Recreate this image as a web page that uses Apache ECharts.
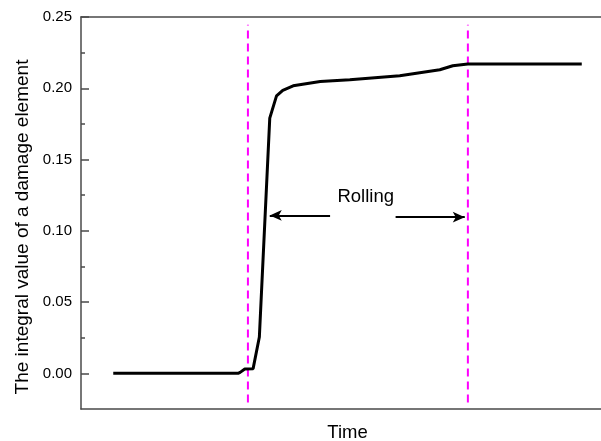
<!DOCTYPE html>
<html>
<head>
<meta charset="utf-8">
<script src="https://cdn.jsdelivr.net/npm/echarts@6/dist/echarts.min.js"></script>
<style>html,body{margin:0;padding:0;background:#fff;}#c{width:601px;height:441px;}</style>
</head>
<body>
<div id="c"></div>
<script>
const timeValues   = [6.2, 30.2, 30.6, 31.5, 33.1, 34.3, 36.3, 37.6, 38.8, 40.8, 46.0, 51.7, 61.3, 69.0, 71.5, 74.4, 96.3];
const damageValues = [0, 0, 0.0007, 0.003, 0.0033, 0.0255, 0.1791, 0.1947, 0.1986, 0.2017, 0.2048, 0.2060, 0.2088, 0.2130, 0.2158, 0.2170, 0.2170];
const boundaryTimes = [32.1, 74.4];
const boundaryRange = [-0.0205, 0.2445];
const majorTicks = [0, 0.05, 0.10, 0.15, 0.20, 0.25];
const minorTicks = [0.025, 0.075, 0.125, 0.175, 0.225];
const leftArrow  = [[47.9, 0.1108], [36.3, 0.1108]];
const rightArrow = [[60.5, 0.1096], [73.8, 0.1096]];
const rollingLabel = { text: 'Rolling', coord: [54.75, 0.1241] };

const font = 'Arial, "Liberation Sans", sans-serif';
const curve = timeValues.map((t, i) => [t, damageValues[i]]);

const chart = echarts.init(document.getElementById('c'), null, { renderer: 'canvas' });
const axisLineStyle = { color: '#4a4a4a', width: 1.5 };

const series = [
  {
    name: 'damage', type: 'line', data: curve, xAxisIndex: 0, yAxisIndex: 0,
    showSymbol: false, smooth: false,
    lineStyle: { color: '#000', width: 3 }, z: 5,
    markLine: {
      silent: true, symbol: ['none', 'arrow'], symbolSize: [8, 12],
      lineStyle: { color: '#000', width: 2, type: 'solid' },
      label: { show: false },
      data: [
        [{ coord: leftArrow[0] }, { coord: leftArrow[1] }],
        [{ coord: rightArrow[0] }, { coord: rightArrow[1] }]
      ]
    },
    markPoint: {
      silent: true, symbol: 'circle', symbolSize: 1,
      itemStyle: { color: 'rgba(0,0,0,0)' },
      label: { show: true, position: 'inside', formatter: rollingLabel.text, color: '#000', fontSize: 18.5, fontFamily: font },
      data: [{ coord: rollingLabel.coord }]
    }
  }
];
boundaryTimes.forEach((t, i) => {
  series.push({
    name: 'boundary' + i, type: 'line', xAxisIndex: 0, yAxisIndex: 0,
    data: [[t, boundaryRange[0]], [t, boundaryRange[1]]],
    showSymbol: false, z: 3,
    lineStyle: { color: '#ff00ff', width: 2, type: [8, 5] }
  });
});

chart.setOption({
  animation: false,
  backgroundColor: '#fff',
  grid: { left: 81, top: 17, right: 0, bottom: 32, containLabel: false, outerBoundsMode: 'none' },
  xAxis: [
    {
      type: 'value', min: 0, max: 100, position: 'bottom',
      name: 'Time', nameLocation: 'middle', nameGap: 14,
      nameTextStyle: { color: '#000', fontSize: 18.5, fontFamily: font, padding: [0, 0, 0, 13] },
      axisLine: { show: true, onZero: false, lineStyle: axisLineStyle },
      axisTick: { show: false }, axisLabel: { show: false }, splitLine: { show: false }
    },
    {
      type: 'value', min: 0, max: 100, position: 'top',
      axisLine: { show: true, onZero: false, lineStyle: axisLineStyle },
      axisTick: { show: false }, axisLabel: { show: false }, splitLine: { show: false }
    }
  ],
  yAxis: [
    {
      type: 'value', min: -0.025, max: 0.25, interval: 0.025, position: 'left',
      name: 'The integral value of a damage element', nameLocation: 'middle', nameGap: 48,
      nameRotate: 90,
      nameTextStyle: { color: '#000', fontSize: 19, fontFamily: font, padding: [0, 28, 0, 0] },
      axisLine: { show: true, onZero: false, lineStyle: axisLineStyle },
      axisTick: { show: true, inside: true, length: 8, customValues: majorTicks, lineStyle: axisLineStyle },
      axisLabel: { show: true, margin: 9, customValues: majorTicks, color: '#000', fontSize: 15, fontFamily: font,
        formatter: v => v.toFixed(2) },
      splitLine: { show: false }
    },
    {
      type: 'value', min: -0.025, max: 0.25, interval: 0.025, position: 'left',
      axisLine: { show: false, onZero: false },
      axisTick: { show: true, inside: true, length: 4, customValues: minorTicks, lineStyle: axisLineStyle },
      axisLabel: { show: false }, splitLine: { show: false }
    }
  ],
  series: series
});
</script>
</body>
</html>
